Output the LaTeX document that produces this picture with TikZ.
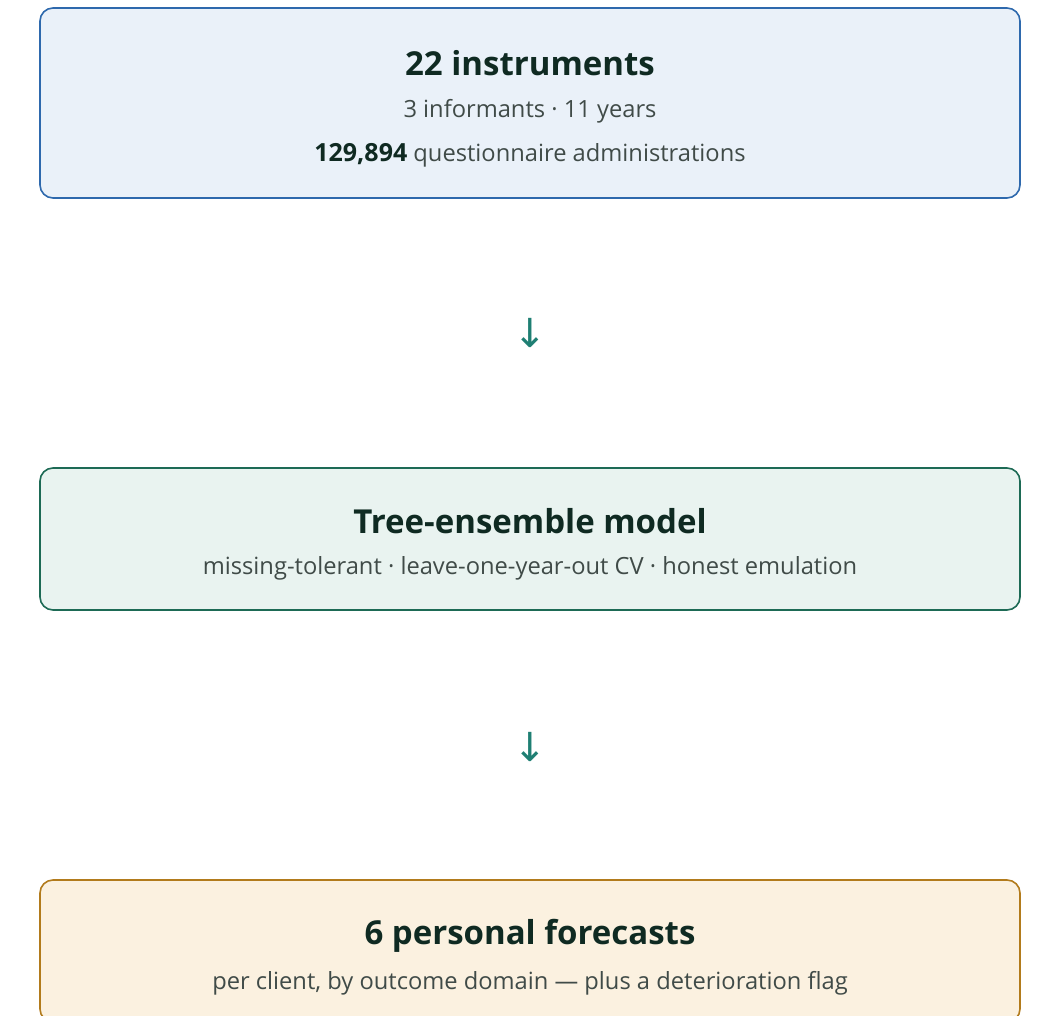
\documentclass[tikz,border=0pt]{standalone}
\usepackage{fontspec}
\setmainfont{Open Sans}
\newfontfamily\arrowfont{DejaVu Sans}
\usetikzlibrary{positioning}

\definecolor{inputfill}{HTML}{EAF1F9}
\definecolor{inputline}{HTML}{2E69AD}
\definecolor{modelfill}{HTML}{E9F3F0}
\definecolor{modelline}{HTML}{1D6A55}
\definecolor{outfill}{HTML}{FBF1E0}
\definecolor{outline}{HTML}{B27B1C}
\definecolor{titletext}{HTML}{0F2A22}
\definecolor{subtext}{HTML}{404B48}
\definecolor{arrowteal}{HTML}{1F7F73}

\tikzset{
  stage/.style={rounded corners=13pt, line width=1.6pt, minimum width=980pt, inner sep=0pt},
  title/.style={font=\fontsize{33}{40}\selectfont\bfseries, text=titletext, inner sep=0pt},
  sub/.style={font=\fontsize{23.7}{28}\selectfont, text=subtext, inner sep=0pt},
  flow/.style={font=\arrowfont\fontsize{40}{48}\selectfont, text=arrowteal, inner sep=0pt}
}

\begin{document}
\begin{tikzpicture}[x=1pt,y=-1pt]
\useasboundingbox (0,0) rectangle (1057,1016);
\clip (0,0) rectangle (1057,1016);

% the three stages
\node[stage, draw=inputline, fill=inputfill, minimum height=190pt] (inputs) at (530,103) {};
\node[stage, draw=modelline, fill=modelfill, minimum height=142pt] (model) at (530,539) {};
\node[stage, draw=outline, fill=outfill, minimum height=142pt] (forecasts) at (530,951) {};

\node[title] (inputstitle) at (530,63) {22 instruments};
\node[sub] (inputsinfo) at (530,111) {3 informants · 11 years};
\node[sub] (inputscount) at (530,155) {\textbf{\color{titletext}\fontsize{25}{30}\selectfont 129,894} questionnaire administrations};

\node[title] (modeltitle) at (530,521) {Tree-ensemble model};
\node[sub] (modelinfo) at (530,568) {missing-tolerant · leave-one-year-out CV · honest emulation};

\node[title] (forecaststitle) at (530,936) {6 personal forecasts};
\node[sub] (forecastsinfo) at (530,983) {per client, by outcome domain — plus a deterioration flag};

% arrows between stages
\node[flow] (flowone) at (530,333) {↓};
\node[flow] (flowtwo) at (530,747) {↓};
\end{tikzpicture}
\end{document}
